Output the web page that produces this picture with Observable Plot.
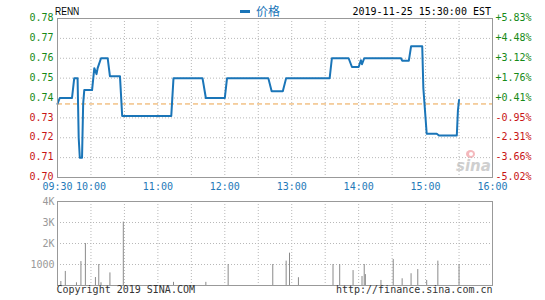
<!DOCTYPE html>
<html>
<head>
<meta charset="utf-8">
<script src="https://cdn.jsdelivr.net/npm/d3@7"></script>
<script src="https://cdn.jsdelivr.net/npm/@observablehq/plot@0.6"></script>
<style>
  html, body { margin: 0; padding: 0; background: #fff; }
  #wrap { position: relative; width: 545px; height: 300px; overflow: hidden; background: #fff; }
  #wrap > div.abs { position: absolute; white-space: nowrap; }
  .mono { font-family: "DejaVu Sans Mono", monospace; font-size: 10px; }
  #price, #vol { position: absolute; left: 0; }
  #price { top: 0; }
  #vol { top: 190px; }
</style>
</head>
<body>
<div id="wrap">
  <div id="vol"></div>
  <div class="abs" style="left:456px; top:157px; font-family:'DejaVu Sans',sans-serif; font-style:italic; font-weight:bold; font-size:15px; color:#cfcfcf;">sina</div>
  <div class="abs" style="left:466px; top:150px; width:9px; height:8px; border-radius:50%; background:#f4b8bc;"></div>
  <div class="abs" style="left:469px; top:152px; width:4px; height:4px; border-radius:50%; background:#fff;"></div>
  <div id="price"></div>
  <div class="abs" id="ticker" style="left:55px; top:5px; font-family:'Liberation Sans',Arial,sans-serif; font-size:11px; color:#000; transform:scaleX(0.78); transform-origin:left top;"></div>
  <div class="abs" style="left:240px; top:10px; width:10px; height:3px; background:#1a75b8;"></div>
  <div class="abs" id="legend" style="left:256px; top:3px; font-family:'Noto Sans CJK SC',sans-serif; font-size:12px; line-height:16px; color:#1a75b8;"></div>
  <div class="abs mono" id="stamp" style="right:54px; top:5px; color:#000; line-height:13px;"></div>
</div>
<script>
// ---------- data ----------
const ticker = "RENN";
const seriesName = "价格";
const stamp = "2019-11-25 15:30:00 EST";
const copyright = "Copyright 2019 SINA.COM";
const site = "http://finance.sina.com.cn";

const prevClose = 0.737;

const priceTimes = ["09:30","09:32","09:43","09:45","09:48","09:49","09:50","09:52","09:53","09:54",
  "10:01","10:03","10:05","10:06","10:09","10:15","10:17","10:26","10:28","11:12",
  "11:14","11:40","11:43","12:00","12:02","12:39","12:42","12:52","12:55","13:34",
  "13:36","13:51","13:54","14:00","14:02","14:03","14:05","14:38","14:39","14:45",
  "14:47","14:57","14:58","15:01","15:10","15:12","15:28","15:29","15:30"];
const priceValues = [0.737,0.740,0.740,0.750,0.750,0.720,0.710,0.710,0.737,0.744,
  0.744,0.755,0.752,0.755,0.760,0.760,0.751,0.751,0.731,0.731,
  0.750,0.750,0.740,0.740,0.750,0.750,0.7434,0.7434,0.750,0.750,
  0.760,0.760,0.7556,0.7556,0.759,0.757,0.760,0.760,0.7588,0.7588,
  0.766,0.766,0.745,0.722,0.722,0.7211,0.7211,0.7337,0.739];

const volTimes = ["09:33","09:37","09:47","09:51","09:55","10:04","10:07","10:09","10:17","10:29",
  "11:14","11:43","12:03","12:43","12:55","12:58","13:06","13:37","13:43","13:55",
  "14:03","14:05","14:06","14:20","14:31","14:39","14:47","14:53","15:01","15:11","15:30"];
const volValues = [190,670,130,1140,2000,380,1000,130,600,3020,
  150,150,1000,1000,1160,1540,370,1000,1000,710,
  430,1000,520,240,1240,320,560,760,240,1160,1000];

const priceTicks = [0.78,0.77,0.76,0.75,0.74,0.73,0.72,0.71,0.70];
const priceTickLabels = ["0.78","0.77","0.76","0.75","0.74","0.73","0.72","0.71","0.70"];
const pctTickLabels = ["+5.83%","+4.48%","+3.12%","+1.76%","+0.41%","-0.95%","-2.31%","-3.66%","-5.02%"];

const timeTickLabels = ["09:30","10:00","11:00","12:00","13:00","14:00","15:00","16:00"];
const gridTimes = ["10:00","10:30","11:00","11:30","12:00","12:30","13:00","13:30","14:00","14:30","15:00","15:30"];
const timeDomain = ["09:30","16:00"];

const volTicks = [4000,3000,2000,1000];
const volTickLabels = ["4K","3K","2K","1000"];

// ---------- helpers ----------
const t = s => { const [h, m] = s.split(":").map(Number); return new Date(Date.UTC(2019, 10, 25, h, m)); };
const blue = "#1a75b8", green = "#178a17", red = "#c81414", grid = "#b8b8b8", frameCol = "#999";
const priceData = priceTimes.map((s, i) => ({time: t(s), price: priceValues[i]}));
const volData = volTimes.map((s, i) => ({time: t(s), vol: volValues[i]}));
const pctOf = p => p - prevClose;

document.getElementById("ticker").textContent = ticker;
document.getElementById("legend").textContent = seriesName;
document.getElementById("stamp").textContent = stamp;

const common = {
  width: 545, marginLeft: 57, marginRight: 53,
  style: {background: "transparent", overflow: "visible", fontFamily: "DejaVu Sans Mono, monospace", fontSize: "10px"},
  x: {type: "utc", domain: timeDomain.map(t), axis: null}
};

const price = Plot.plot({
  ...common,
  height: 200, marginTop: 18, marginBottom: 23,
  y: {domain: [0.70, 0.78], axis: null},
  marks: [
    Plot.ruleY(priceTicks, {stroke: grid, strokeDasharray: "1,2"}),
    Plot.ruleX(gridTimes.map(t), {stroke: grid, strokeDasharray: "1,2"}),
    Plot.ruleY([prevClose], {stroke: "#eba24a", strokeDasharray: "5,3"}),
    Plot.line(priceData, {x: "time", y: "price", stroke: blue, strokeWidth: 2, curve: "linear"}),
    Plot.frame({stroke: frameCol}),
    Plot.text(priceTicks, {y: d => d, frameAnchor: "left", dx: -4, dy: -0.5, textAnchor: "end",
      text: (d, i) => priceTickLabels[i], fill: d => pctOf(d) >= 0 ? green : red}),
    Plot.text(priceTicks, {y: d => d, frameAnchor: "right", dx: 3, dy: -0.5, textAnchor: "start",
      text: (d, i) => pctTickLabels[i], fill: d => pctOf(d) >= 0 ? green : red}),
    Plot.text(timeTickLabels, {x: d => t(d), frameAnchor: "bottom", dy: 12, text: d => d, fill: "#2479b8"})
  ]
});
document.getElementById("price").appendChild(price);

const vol = Plot.plot({
  ...common,
  height: 110, marginTop: 11, marginBottom: 15,
  y: {domain: [0, 4000], axis: null},
  marks: [
    Plot.ruleY([1000, 2000, 3000], {stroke: grid, strokeDasharray: "1,2"}),
    Plot.ruleX(gridTimes.map(t), {stroke: grid, strokeDasharray: "1,2"}),
    Plot.ruleX(volData, {x: "time", y1: 0, y2: "vol", stroke: "#8a8a8a", strokeWidth: 1}),
    Plot.frame({stroke: frameCol}),
    Plot.text(volTicks, {y: d => d, frameAnchor: "left", dx: -3, textAnchor: "end",
      text: (d, i) => volTickLabels[i], fill: "#999"}),
    Plot.text([copyright], {frameAnchor: "bottom-left", dx: -1, dy: 7, textAnchor: "start", text: d => d, fill: "#333"}),
    Plot.text([site], {frameAnchor: "bottom-right", dx: 0, dy: 7, textAnchor: "end", text: d => d, fill: "#333"})
  ]
});
document.getElementById("vol").appendChild(vol);
</script>
</body>
</html>
